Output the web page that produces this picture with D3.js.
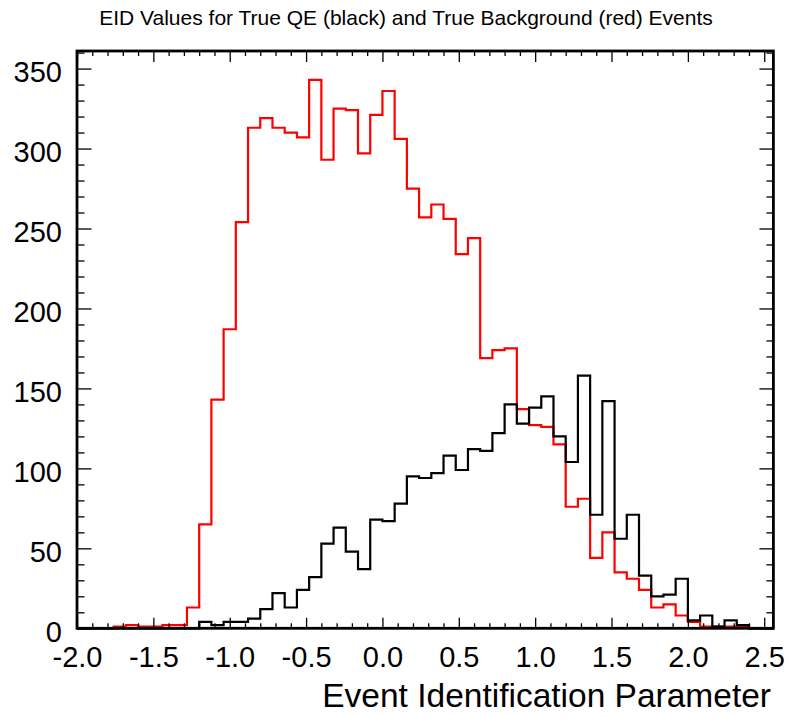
<!DOCTYPE html>
<html>
<head>
<meta charset="utf-8">
<script src="https://cdn.jsdelivr.net/npm/d3@7/dist/d3.min.js"></script>
<style>
  html, body { margin: 0; padding: 0; background: #ffffff; }
  svg { display: block; font-family: "Liberation Sans", Arial, Helvetica, sans-serif; }
</style>
</head>
<body>
<svg id="chart" width="790" height="717"></svg>
<script>
// Histogram binning: 57 bins of width 0.08 starting at -2.0
const binLow = -2.0;
const binWidth = 0.08;

// True QE events (black)
const qeCounts = [
  0, 0, 0, 0, 0, 0, 0, 0, 0, 0,
  4, 2, 4, 4, 6, 12, 22, 13, 24, 32,
  53, 63, 48, 37, 68, 67, 78, 95, 94, 97,
  108, 99, 112, 111, 122, 140, 128, 138, 145, 120,
  104, 158, 71, 142, 56, 71, 33, 20, 21, 31,
  5, 8, 1, 5, 2, 0, 0
];

// True background events (red)
const bgCounts = [
  0, 0, 0, 1, 2, 1, 1, 2, 2, 13,
  65, 143, 187, 254, 313, 319, 313, 310, 307, 343,
  293, 325, 324, 297, 321, 336, 306, 275, 257, 265,
  256, 234, 244, 169, 174, 175, 137, 127, 126, 115,
  76, 81, 44, 60, 35, 31, 24, 13, 15, 8,
  4, 1, 1, 1, 1, 0, 0
];

const xTickValues = [-2.0, -1.5, -1.0, -0.5, 0.0, 0.5, 1.0, 1.5, 2.0, 2.5];
const xTickLabels = ["-2.0", "-1.5", "-1.0", "-0.5", "0.0", "0.5", "1.0", "1.5", "2.0", "2.5"];
const yTickValues = [0, 50, 100, 150, 200, 250, 300, 350];
const yTickLabels = ["0", "50", "100", "150", "200", "250", "300", "350"];

const titleText = "EID Values for True QE (black) and True Background (red) Events";
const xAxisTitle = "Event Identification Parameter";

const xDomain = [-2.0, 2.56];
const yDomain = [0, 361];

// Frame geometry
const frame = { left: 77, right: 773.4, top: 51, bottom: 628.3 };

const svg = d3.select("#chart");

const x = d3.scaleLinear().domain(xDomain).range([frame.left, frame.right]);
const y = d3.scaleLinear().domain(yDomain).range([frame.bottom, frame.top]);

// Step outline for a histogram
function histPath(counts) {
  const pts = [[x(binLow), y(0)]];
  counts.forEach((c, i) => {
    const x0 = binLow + i * binWidth;
    const x1 = x0 + binWidth;
    pts.push([x(x0), y(c)]);
    pts.push([x(x1), y(c)]);
  });
  pts.push([x(binLow + counts.length * binWidth), y(0)]);
  return d3.line()(pts);
}

const plot = svg.append("g");

plot.append("path")
  .attr("d", histPath(bgCounts))
  .attr("fill", "none")
  .attr("stroke", "#ff0000")
  .attr("stroke-width", 2.2)
  .attr("stroke-linejoin", "miter");

plot.append("path")
  .attr("d", histPath(qeCounts))
  .attr("fill", "none")
  .attr("stroke", "#000000")
  .attr("stroke-width", 2.2)
  .attr("stroke-linejoin", "miter");

// Minor tick positions
const xMinor = d3.range(-2.0, 2.56, 0.1).map(v => Math.round(v * 10) / 10)
  .filter(v => !xTickValues.some(t => Math.abs(t - v) < 1e-6));
const yMinor = d3.range(0, 361, 10).filter(v => v % 50 !== 0);

function styleTicks(g) {
  g.select(".domain").remove();
  g.selectAll(".tick line").attr("stroke", "#000").attr("stroke-width", 1.3);
}

// Bottom axis (ticks pointing inward)
const axB = svg.append("g").attr("transform", `translate(0,${frame.bottom})`)
  .call(d3.axisBottom(x).tickValues(xTickValues).tickSizeInner(-10.5).tickSizeOuter(0)
    .tickFormat((d, i) => xTickLabels[i]).tickPadding(0));
styleTicks(axB);
axB.selectAll(".tick text")
  .attr("y", 38.4).attr("dy", null)
  .attr("font-size", 29).attr("fill", "#000")
  .attr("font-family", "Liberation Sans, Arial, sans-serif");
svg.append("g").attr("transform", `translate(0,${frame.bottom})`)
  .call(d3.axisBottom(x).tickValues(xMinor).tickSizeInner(-5).tickSizeOuter(0).tickFormat(""))
  .call(styleTicks);

// Top axis
svg.append("g").attr("transform", `translate(0,${frame.top})`)
  .call(d3.axisTop(x).tickValues(xTickValues).tickSizeInner(-11).tickSizeOuter(0).tickFormat(""))
  .call(styleTicks);
svg.append("g").attr("transform", `translate(0,${frame.top})`)
  .call(d3.axisTop(x).tickValues(xMinor).tickSizeInner(-5).tickSizeOuter(0).tickFormat(""))
  .call(styleTicks);

// Left axis
const axL = svg.append("g").attr("transform", `translate(${frame.left},0)`)
  .call(d3.axisLeft(y).tickValues(yTickValues).tickSizeInner(-14.5).tickSizeOuter(0)
    .tickFormat((d, i) => yTickLabels[i]).tickPadding(0));
styleTicks(axL);
axL.selectAll(".tick text")
  .attr("x", -15).attr("dy", null).attr("y", 13.4)
  .attr("text-anchor", "end")
  .attr("font-size", 29).attr("fill", "#000")
  .attr("font-family", "Liberation Sans, Arial, sans-serif");
svg.append("g").attr("transform", `translate(${frame.left},0)`)
  .call(d3.axisLeft(y).tickValues(yMinor).tickSizeInner(-7.5).tickSizeOuter(0).tickFormat(""))
  .call(styleTicks);

// Right axis
svg.append("g").attr("transform", `translate(${frame.right},0)`)
  .call(d3.axisRight(y).tickValues(yTickValues).tickSizeInner(-14).tickSizeOuter(0).tickFormat(""))
  .call(styleTicks);
svg.append("g").attr("transform", `translate(${frame.right},0)`)
  .call(d3.axisRight(y).tickValues(yMinor).tickSizeInner(-7).tickSizeOuter(0).tickFormat(""))
  .call(styleTicks);

// Frame
svg.append("rect")
  .attr("x", frame.left).attr("y", frame.top)
  .attr("width", frame.right - frame.left)
  .attr("height", frame.bottom - frame.top)
  .attr("fill", "none")
  .attr("stroke", "#000")
  .attr("stroke-width", 2.8);

// Title
svg.append("text")
  .attr("x", 406).attr("y", 25)
  .attr("text-anchor", "middle")
  .attr("font-size", 21)
  .attr("fill", "#000")
  .text(titleText);

// X axis title
svg.append("text")
  .attr("x", 771).attr("y", 706.5)
  .attr("text-anchor", "end")
  .attr("font-size", 33.5)
  .attr("fill", "#000")
  .text(xAxisTitle);
</script>
</body>
</html>
